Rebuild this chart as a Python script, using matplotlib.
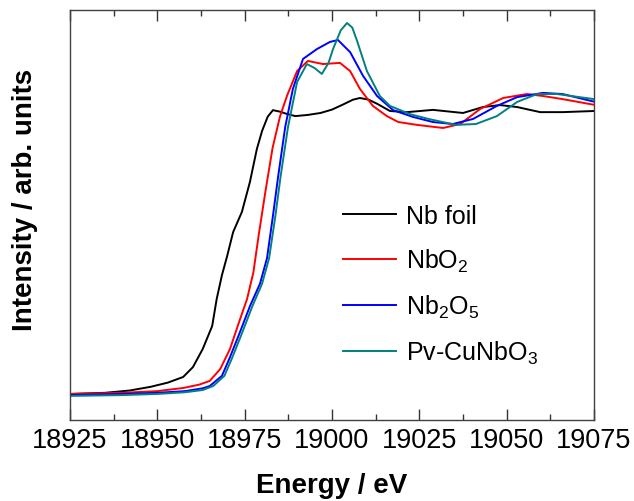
import matplotlib
matplotlib.use("Agg")
import matplotlib.pyplot as plt
from matplotlib.ticker import MultipleLocator

plt.rcParams['font.family'] = ['Liberation Sans', 'DejaVu Sans']
plt.rcParams['mathtext.default'] = 'regular'

# Nb K-edge XANES, normalised intensity
e_foil = [18925, 18935, 18942, 18948, 18953, 18957.4, 18960.2, 18963, 18965.7, 18967,
          18968.5, 18970, 18971.7, 18974.2, 18976.5, 18978.5, 18980, 18981.6, 18983.1,
          18985, 18987, 18989.5, 18993, 18996.7, 19000, 19003, 19006, 19008, 19010.5,
          19013, 19016.6, 19021.5, 19028.9, 19037.5, 19043.2, 19048.1, 19053, 19059.6,
          19066, 19075]
mu_foil = [0.0, 0.004, 0.012, 0.025, 0.040, 0.060, 0.095, 0.159, 0.240, 0.336,
           0.42, 0.488, 0.572, 0.643, 0.749, 0.866, 0.93, 0.98, 1.003,
           0.998, 0.99, 0.982, 0.986, 0.993, 1.005, 1.022, 1.04, 1.046, 1.04,
           1.025, 1.0, 0.996, 1.004, 0.993, 1.014, 1.021, 1.014, 0.996,
           0.996, 1.0]

e_nbo2 = [18925, 18940, 18950, 18957.4, 18962, 18965, 18968, 18970.8, 18973.7, 18975.7,
          18977.5, 18979, 18981, 18983, 18985.1, 18987.1, 18990, 18993.1, 18997.4,
          19002.3, 19005.2, 19008, 19011.7, 19015.7, 19019, 19024.3, 19031.8, 19036.7,
          19042.4, 19049, 19055.8, 19060.4, 19066, 19075]
mu_nbo2 = [0.0, 0.004, 0.010, 0.021, 0.033, 0.046, 0.088, 0.159, 0.265, 0.336,
           0.43, 0.56, 0.72, 0.87, 0.98, 1.053, 1.141, 1.177, 1.166,
           1.170, 1.141, 1.078, 1.018, 0.982, 0.961, 0.951, 0.940, 0.954,
           1.007, 1.046, 1.060, 1.053, 1.042, 1.022]

e_nb2o5 = [18925, 18940, 18950, 18958, 18963, 18965, 18968.5, 18970.8, 18973.7, 18976.5,
           18979.4, 18981.4, 18983.1, 18984.6, 18986.6, 18988.8, 18991.7, 18995.7,
           18999.4, 19001.7, 19005.2, 19008.9, 19012.9, 19017.5, 19023.2, 19028.9,
           19034.6, 19040.4, 19047.2, 19053, 19060.4, 19066, 19075]
mu_nb2o5 = [-0.004, 0.0, 0.004, 0.010, 0.020, 0.028, 0.064, 0.13, 0.22, 0.31,
            0.39, 0.48, 0.63, 0.77, 0.943, 1.078, 1.184, 1.219,
            1.244, 1.251, 1.208, 1.124, 1.053, 1.003, 0.979, 0.961,
            0.954, 0.972, 1.018, 1.049, 1.064, 1.060, 1.033]

e_cunbo3 = [18925, 18940, 18950, 18958, 18963, 18966, 18969.2, 18971.5, 18974.4, 18977.2,
            18980, 18982, 18983.8, 18985.3, 18987.4, 18990, 18992.8, 18995, 18997.1,
            18999, 19000.3, 19002.5, 19004.3, 19005.8, 19007.2, 19010, 19013.7, 19016.6,
            19022.3, 19027.6, 19035.4, 19041.2, 19047.2, 19053, 19058.7, 19064.4, 19075]
mu_cunbo3 = [-0.007, -0.004, 0.0, 0.006, 0.014, 0.028, 0.064, 0.13, 0.22, 0.31,
             0.39, 0.48, 0.63, 0.77, 0.943, 1.102, 1.166, 1.152, 1.131,
             1.17, 1.219, 1.285, 1.311, 1.295, 1.247, 1.141, 1.053, 1.018,
             0.989, 0.972, 0.951, 0.954, 0.982, 1.032, 1.060, 1.060, 1.042]

fig = plt.figure(figsize=(6.34, 5.02), dpi=100)
ax = fig.add_axes([0.1104, 0.1614, 0.8265, 0.8167])

lw = 1.4
ax.plot(e_foil, mu_foil, color='black', lw=lw, label='Nb foil')
ax.plot(e_nbo2, mu_nbo2, color='#ff0000', lw=lw, label='NbO$_2$')
ax.plot(e_nb2o5, mu_nb2o5, color='#0000ff', lw=lw, label='Nb$_2$O$_5$')
ax.plot(e_cunbo3, mu_cunbo3, color='#008080', lw=lw, label='Pv-CuNbO$_3$')

ax.set_xlim(18925, 19075)
ax.set_ylim(-0.092, 1.357)
ax.xaxis.set_major_locator(MultipleLocator(25))
ax.xaxis.set_minor_locator(MultipleLocator(12.5))
ax.tick_params(axis='x', which='both', direction='in', top=True, bottom=True,
               colors='#333333', labelcolor='black', labelsize=19.5, pad=5)
ax.tick_params(axis='x', which='major', length=8, width=1)
ax.tick_params(axis='x', which='minor', length=4, width=1)
ax.set_yticks([])
for s in ax.spines.values():
    s.set_color('#404040')
    s.set_linewidth(1.0)

ax.set_xlabel('Energy / eV', fontsize=20, fontweight='bold', labelpad=14)
ax.set_ylabel('Intensity / arb. units', fontsize=20, fontweight='bold')
ax.yaxis.set_label_coords(-0.061, 0.539)

ax.legend(loc='center left', bbox_to_anchor=(0.479, 0.33), frameon=False,
          fontsize=18, handlelength=2.1, handletextpad=0.4, labelspacing=0.75)

fig.savefig('out.png', dpi=100)
